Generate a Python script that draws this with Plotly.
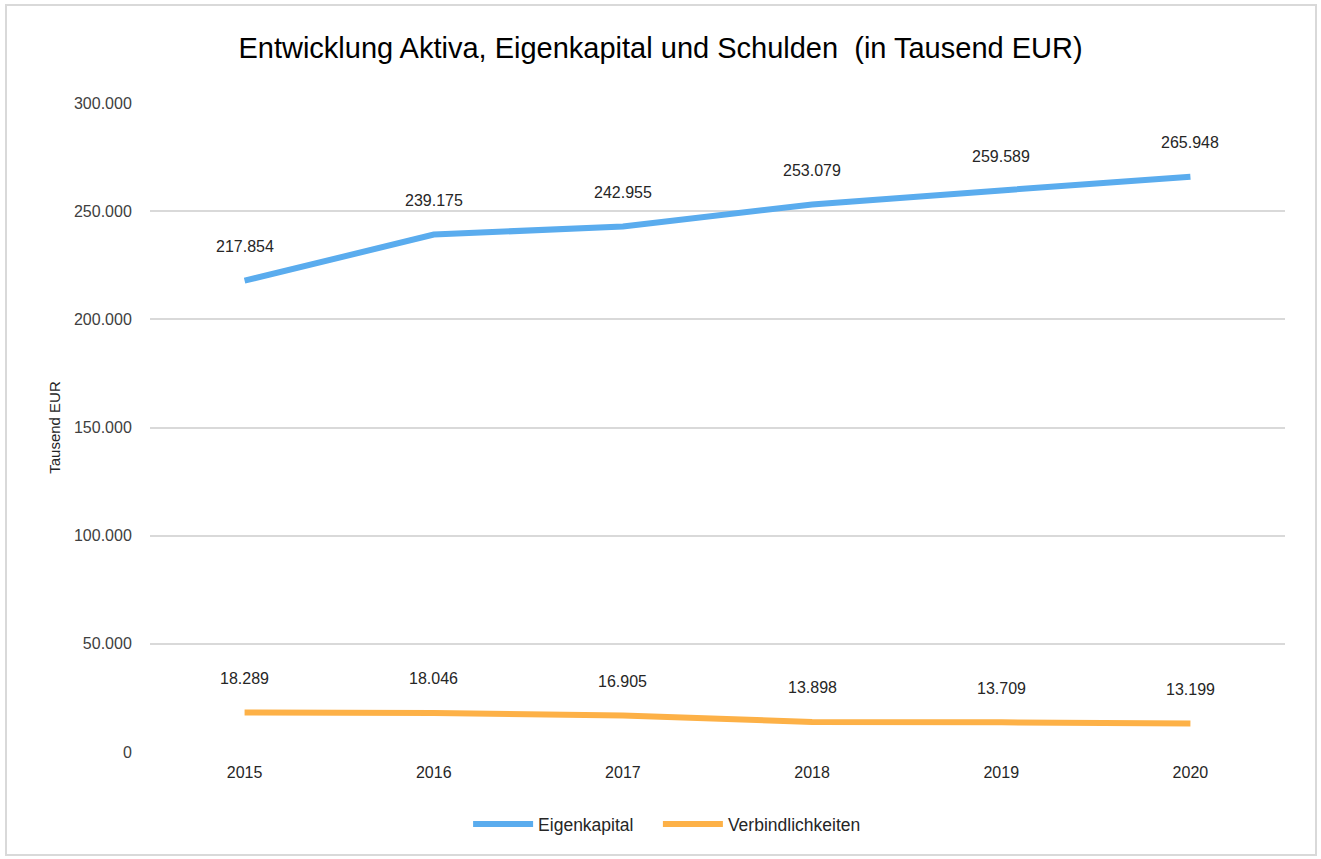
import plotly.graph_objects as go

years = ["2015", "2016", "2017", "2018", "2019", "2020"]
eigenkapital = [217854, 239175, 242955, 253079, 259589, 265948]
verbindlichkeiten = [18289, 18046, 16905, 13898, 13709, 13199]
y_ticks = [0, 50000, 100000, 150000, 200000, 250000, 300000]

BLUE = "#5aacee"
ORANGE = "#fdb147"
FONT = "Liberation Sans, Arial, sans-serif"

def de(v):
    return f"{v:,}".replace(",", ".")

fig = go.Figure()
for name, vals, col in [("Eigenkapital" + "\u00a0" * 4, eigenkapital, BLUE),
                        ("Verbindlichkeiten", verbindlichkeiten, ORANGE)]:
    fig.add_trace(go.Scatter(x=years, y=vals, name=name, mode="lines",
                             line=dict(color=col, width=6), hoverinfo="skip"))
    for i, v in enumerate(vals):
        fig.add_annotation(x=i, y=v, text=de(v), showarrow=False, yshift=34,
                           font=dict(family=FONT, size=16, color="#262626"))

L, R, T, B = 150, 36, 103, 107
W, H = 1321, 859
pw, ph = W - L - R, H - T - B
fig.add_shape(type="rect", xref="paper", yref="paper",
              x0=(6 - L) / pw, x1=(1316 - L) / pw,
              y0=(H - B - 855) / ph, y1=(H - B - 5) / ph,
              line=dict(color="#d9d9d9", width=2), fillcolor="rgba(0,0,0,0)", layer="below")

fig.update_layout(
    width=W, height=H,
    margin=dict(l=L, r=R, t=T, b=B),
    paper_bgcolor="white", plot_bgcolor="white",
    separators=",.",
    title=dict(text="Entwicklung Aktiva, Eigenkapital und Schulden  (in Tausend EUR)",
               x=0.5, xref="container", xanchor="center", y=1 - 48 / H, yanchor="middle",
               font=dict(family=FONT, size=29, color="#000000")),
    font=dict(family=FONT, size=15, color="#404040"),
    showlegend=True,
    legend=dict(orientation="h", x=0.505, xref="container", xanchor="center",
                y=1 - 824 / H, yref="container", yanchor="middle",
                font=dict(family=FONT, size=17.5, color="#262626"), itemwidth=60),
    xaxis=dict(type="category", range=[-0.5, 5.5], showgrid=False, showline=False,
               zeroline=False, ticks="outside", ticklen=6, tickcolor="rgba(0,0,0,0)",
               tickfont=dict(family=FONT, size=16, color="#262626")),
    yaxis=dict(range=[0, 300000], tickvals=y_ticks, tickformat=",d",
               showgrid=True, gridcolor="#d9d9d9", gridwidth=2, zeroline=False,
               ticks="outside", ticklen=14, tickcolor="rgba(0,0,0,0)",
               tickfont=dict(family=FONT, size=16, color="#404040"),
               title=dict(text="Tausend EUR", standoff=9,
                          font=dict(family=FONT, size=15, color="#262626"))),
)

fig.write_html("out.html", config={"displayModeBar": False},
               post_script="document.body.style.margin='0';document.body.style.overflow='hidden';")
